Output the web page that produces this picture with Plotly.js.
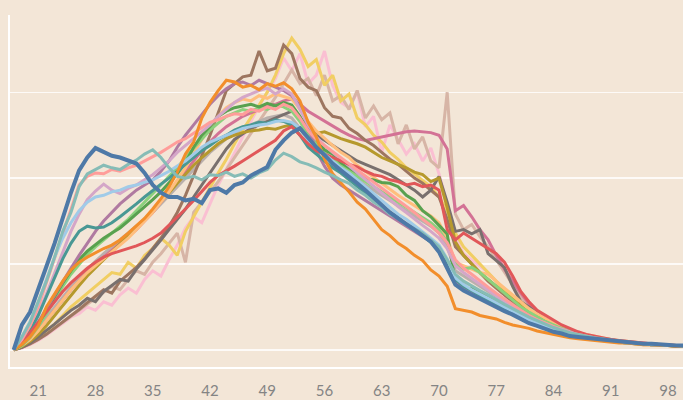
<!DOCTYPE html>
<html>
<head>
<meta charset="utf-8">
<script src="https://cdn.plot.ly/plotly-3.0.1.min.js"></script>
<style>
  html, body { margin: 0; padding: 0; background: #F3E6D7; }
  #chart { width: 683px; height: 400px; }
</style>
</head>
<body>
<div id="chart"></div>
<script>
// Ages on the x axis
const ages = [18,19,20,21,22,23,24,25,26,27,28,29,30,31,32,33,34,35,36,37,38,39,40,41,42,43,44,45,46,47,48,49,50,51,52,53,54,55,56,57,58,59,60,61,62,63,64,65,66,67,68,69,70,71,72,73,74,75,76,77,78,79,80,81,82,83,84,85,86,87,88,89,90,91,92,93,94,95,96,97,98,99,100];
const tickVals = [21,28,35,42,49,56,63,70,77,84,91,98];
const tickLabels = ["21","28","35","42","49","56","63","70","77","84","91","98"];

// Series values (unitless, one gridline = 1)
const sBlue = [0.00,0.29,0.44,0.72,0.97,1.24,1.55,1.83,2.09,2.24,
  2.35,2.31,2.26,2.24,2.21,2.17,2.06,1.92,1.83,1.78,
  1.78,1.74,1.76,1.71,1.86,1.88,1.83,1.92,1.95,2.03,
  2.08,2.13,2.33,2.44,2.53,2.58,2.47,2.36,2.27,2.17,
  2.09,2.02,1.94,1.86,1.77,1.69,1.60,1.53,1.47,1.40,
  1.33,1.26,1.14,0.95,0.76,0.69,0.64,0.59,0.55,0.50,
  0.45,0.41,0.36,0.31,0.28,0.24,0.21,0.19,0.16,0.15,
  0.14,0.13,0.12,0.10,0.09,0.09,0.08,0.07,0.07,0.06,
  0.06,0.05,0.05];
const sLightTeal = [0,0.15,0.32,0.55,0.80,1.08,1.38,1.60,1.90,2.05,
  2.10,2.15,2.12,2.10,2.16,2.21,2.28,2.33,2.24,2.12,
  2.02,2.00,2.02,1.98,2.04,2.03,2.07,2.02,2.05,2.00,
  2.06,2.10,2.21,2.29,2.25,2.19,2.16,2.12,2.07,2.03,
  1.98,1.94,1.86,1.80,1.72,1.66,1.58,1.53,1.46,1.41,
  1.36,1.28,1.20,1.05,0.88,0.80,0.74,0.69,0.64,0.58,
  0.53,0.48,0.43,0.38,0.34,0.30,0.26,0.23,0.20,0.18,
  0.16,0.14,0.13,0.11,0.10,0.09,0.08,0.07,0.06,0.06,
  0.05,0.05,0.04];
const sLightRed = [0,0.12,0.28,0.50,0.78,1.06,1.35,1.62,1.92,2.02,
  2.06,2.05,2.10,2.08,2.12,2.15,2.20,2.25,2.30,2.36,
  2.42,2.46,2.52,2.58,2.65,2.68,2.72,2.75,2.74,2.80,
  2.78,2.83,2.80,2.86,2.82,2.70,2.55,2.45,2.38,2.30,
  2.24,2.17,2.10,2.03,1.96,1.88,1.82,1.74,1.68,1.60,
  1.52,1.45,1.36,1.25,1.05,0.95,0.88,0.80,0.73,0.66,
  0.59,0.52,0.46,0.40,0.35,0.31,0.27,0.23,0.20,0.18,
  0.16,0.14,0.12,0.11,0.10,0.09,0.08,0.07,0.06,0.06,
  0.05,0.05,0.04];
const sLightPurple = [0,0.10,0.22,0.42,0.65,0.90,1.15,1.38,1.58,1.75,
  1.85,1.93,1.86,1.82,1.88,1.92,1.98,2.04,2.12,2.20,
  2.30,2.38,2.46,2.55,2.62,2.72,2.80,2.88,2.94,2.98,
  3.02,3.05,2.98,3.04,2.98,2.80,2.62,2.48,2.38,2.30,
  2.22,2.14,2.06,1.98,1.90,1.82,1.75,1.67,1.60,1.52,
  1.45,1.38,1.30,1.18,0.98,0.90,0.83,0.76,0.70,0.63,
  0.57,0.51,0.45,0.40,0.35,0.31,0.27,0.24,0.21,0.19,
  0.17,0.15,0.13,0.12,0.10,0.09,0.08,0.08,0.07,0.06,
  0.05,0.05,0.04];
const sLightBlue = [0,0.15,0.33,0.55,0.82,1.08,1.30,1.48,1.62,1.72,
  1.78,1.80,1.84,1.86,1.90,1.92,1.95,1.98,2.03,2.08,
  2.14,2.20,2.28,2.36,2.42,2.46,2.50,2.54,2.58,2.60,
  2.62,2.63,2.66,2.67,2.65,2.58,2.45,2.36,2.28,2.20,
  2.12,2.06,1.98,1.90,1.82,1.74,1.66,1.58,1.52,1.45,
  1.38,1.30,1.22,1.06,0.84,0.76,0.70,0.65,0.60,0.55,
  0.50,0.45,0.40,0.35,0.31,0.27,0.24,0.21,0.18,0.16,
  0.14,0.13,0.12,0.10,0.09,0.08,0.08,0.07,0.06,0.06,
  0.05,0.05,0.04];
const sTeal = [0,0.10,0.22,0.40,0.62,0.85,1.06,1.24,1.38,1.44,
  1.42,1.43,1.48,1.55,1.62,1.70,1.78,1.86,1.93,2.00,
  2.08,2.16,2.24,2.32,2.38,2.45,2.50,2.56,2.60,2.62,
  2.65,2.64,2.68,2.66,2.62,2.50,2.36,2.28,2.20,2.12,
  2.06,1.98,1.90,1.83,1.75,1.68,1.60,1.54,1.46,1.40,
  1.33,1.26,1.18,1.00,0.82,0.74,0.69,0.63,0.58,0.53,
  0.48,0.43,0.38,0.34,0.30,0.26,0.23,0.20,0.18,0.16,
  0.14,0.12,0.11,0.10,0.09,0.08,0.07,0.07,0.06,0.05,
  0.05,0.04,0.04];
const sOrange = [0,0.06,0.15,0.28,0.50,0.65,0.80,0.93,1.02,1.08,
  1.13,1.18,1.22,1.28,1.36,1.45,1.53,1.64,1.76,1.90,
  2.07,2.28,2.42,2.70,2.88,3.02,3.14,3.12,3.06,3.08,
  3.03,3.10,3.07,3.11,3.04,2.90,2.65,2.48,2.22,2.05,
  1.95,1.84,1.72,1.64,1.52,1.40,1.33,1.24,1.18,1.10,
  1.04,0.93,0.86,0.74,0.48,0.46,0.44,0.40,0.38,0.36,
  0.32,0.29,0.27,0.25,0.22,0.20,0.18,0.16,0.14,0.13,
  0.12,0.11,0.10,0.09,0.08,0.08,0.07,0.06,0.06,0.05,
  0.05,0.04,0.04];
const sLightOrange = [0,0.05,0.12,0.22,0.34,0.46,0.58,0.70,0.80,0.90,
  0.98,1.06,1.13,1.22,1.30,1.40,1.50,1.60,1.72,1.84,
  1.98,2.12,2.28,2.45,2.60,2.72,2.82,2.88,2.92,2.90,
  2.96,2.93,2.98,2.95,2.92,2.80,2.66,2.55,2.46,2.38,
  2.30,2.24,2.15,2.08,2.00,1.93,1.86,1.80,1.74,1.68,
  1.62,1.56,1.48,1.30,1.02,0.98,0.94,0.90,0.88,0.80,
  0.72,0.64,0.56,0.48,0.42,0.36,0.31,0.27,0.23,0.20,
  0.18,0.16,0.14,0.12,0.11,0.10,0.09,0.08,0.07,0.06,
  0.06,0.05,0.05];
const sGreen = [0,0.06,0.16,0.30,0.46,0.62,0.78,0.92,1.05,1.15,
  1.23,1.30,1.36,1.42,1.50,1.58,1.66,1.75,1.84,1.95,
  2.05,2.18,2.36,2.50,2.60,2.72,2.78,2.82,2.84,2.86,
  2.83,2.87,2.84,2.88,2.85,2.72,2.55,2.45,2.33,2.28,
  2.18,2.12,2.05,2.00,1.98,1.95,1.94,1.90,1.80,1.74,
  1.62,1.55,1.45,1.35,0.78,0.70,0.72,0.66,0.60,0.55,
  0.50,0.45,0.40,0.35,0.31,0.28,0.24,0.21,0.18,0.16,
  0.14,0.13,0.11,0.10,0.09,0.08,0.08,0.07,0.06,0.06,
  0.05,0.05,0.04];
const sLightGreen = [0,0.05,0.14,0.27,0.42,0.58,0.74,0.88,1.00,1.11,
  1.20,1.28,1.36,1.43,1.52,1.62,1.72,1.82,1.92,2.02,
  2.12,2.24,2.35,2.46,2.56,2.64,2.72,2.76,2.80,2.78,
  2.82,2.80,2.85,2.83,2.78,2.66,2.50,2.40,2.30,2.22,
  2.15,2.08,2.02,1.96,1.90,1.84,1.78,1.72,1.66,1.60,
  1.54,1.48,1.40,1.25,1.00,0.94,0.96,0.90,0.82,0.74,
  0.66,0.58,0.50,0.44,0.38,0.33,0.29,0.25,0.22,0.19,
  0.17,0.15,0.13,0.12,0.10,0.09,0.08,0.07,0.07,0.06,
  0.05,0.05,0.04];
const sOlive = [0,0.04,0.10,0.18,0.28,0.40,0.52,0.64,0.75,0.86,
  0.96,1.05,1.14,1.23,1.32,1.42,1.52,1.62,1.72,1.83,
  1.94,2.05,2.15,2.24,2.32,2.40,2.46,2.50,2.53,2.55,
  2.56,2.58,2.57,2.60,2.62,2.58,2.55,2.52,2.54,2.50,
  2.46,2.43,2.40,2.36,2.30,2.24,2.20,2.16,2.12,2.07,
  2.04,1.96,2.00,1.66,1.26,1.10,1.00,0.90,0.82,0.74,
  0.66,0.58,0.50,0.43,0.37,0.32,0.28,0.24,0.21,0.18,
  0.16,0.14,0.12,0.11,0.10,0.09,0.08,0.07,0.06,0.06,
  0.05,0.05,0.04];
const sYellow = [0,0.03,0.08,0.14,0.22,0.30,0.40,0.50,0.58,0.66,
  0.74,0.82,0.90,0.88,1.02,0.95,1.10,1.18,1.30,1.22,
  1.10,1.38,1.55,1.72,1.90,2.06,2.22,2.40,2.56,2.70,
  2.85,3.00,3.20,3.45,3.63,3.50,3.30,3.38,3.08,3.20,
  2.90,2.98,2.70,2.62,2.50,2.42,2.30,2.22,2.12,2.05,
  1.98,1.90,1.78,1.62,1.36,1.20,1.10,1.00,0.90,0.80,
  0.70,0.60,0.52,0.44,0.38,0.32,0.27,0.23,0.20,0.17,
  0.15,0.13,0.11,0.10,0.09,0.08,0.07,0.06,0.06,0.05,
  0.05,0.04,0.04];
const sRed = [0,0.08,0.20,0.32,0.45,0.57,0.68,0.78,0.87,0.95,
  1.02,1.08,1.12,1.15,1.18,1.21,1.25,1.30,1.36,1.45,
  1.54,1.64,1.74,1.84,1.95,2.03,2.08,2.14,2.20,2.26,
  2.32,2.38,2.44,2.55,2.60,2.50,2.40,2.32,2.28,2.24,
  2.20,2.16,2.13,2.08,2.04,2.02,1.98,1.96,1.92,1.94,
  1.90,1.92,1.86,1.40,1.28,1.36,1.30,1.24,1.18,1.12,
  1.02,0.86,0.68,0.56,0.46,0.40,0.35,0.29,0.25,0.21,
  0.18,0.16,0.14,0.12,0.11,0.10,0.09,0.08,0.07,0.06,
  0.06,0.05,0.05];
const sGray = [0,0.03,0.08,0.15,0.22,0.30,0.38,0.46,0.52,0.60,
  0.56,0.68,0.75,0.82,0.80,0.94,1.05,1.16,1.28,1.40,
  1.52,1.64,1.78,1.92,2.06,2.20,2.34,2.45,2.52,2.58,
  2.62,2.66,2.70,2.74,2.78,2.70,2.60,2.50,2.44,2.38,
  2.32,2.26,2.20,2.16,2.12,2.08,2.04,1.98,1.92,1.86,
  1.78,1.86,2.02,1.72,1.38,1.40,1.35,1.40,1.12,1.04,
  0.96,0.74,0.56,0.50,0.42,0.35,0.30,0.26,0.22,0.19,
  0.17,0.15,0.13,0.12,0.10,0.09,0.08,0.07,0.07,0.06,
  0.05,0.05,0.04];
const sLightGray = [0,0.06,0.14,0.25,0.38,0.50,0.62,0.73,0.84,0.94,
  1.03,1.12,1.20,1.28,1.36,1.44,1.52,1.60,1.70,1.80,
  1.90,2.00,2.10,2.20,2.30,2.38,2.46,2.52,2.58,2.62,
  2.66,2.70,2.72,2.74,2.70,2.58,2.44,2.34,2.26,2.18,
  2.12,2.05,1.98,1.92,1.86,1.80,1.74,1.68,1.62,1.56,
  1.50,1.44,1.36,1.20,0.92,0.86,0.80,0.74,0.68,0.62,
  0.56,0.50,0.44,0.39,0.34,0.30,0.26,0.23,0.20,0.18,
  0.16,0.14,0.12,0.11,0.10,0.09,0.08,0.07,0.06,0.06,
  0.05,0.05,0.04];
const sPink = [0,0.05,0.12,0.22,0.34,0.46,0.58,0.70,0.80,0.90,
  1.00,1.08,1.16,1.24,1.32,1.40,1.50,1.60,1.72,1.84,
  1.96,2.08,2.20,2.32,2.42,2.52,2.60,2.66,2.72,2.76,
  2.80,2.84,2.86,2.90,2.92,2.86,2.78,2.72,2.66,2.60,
  2.55,2.50,2.46,2.44,2.46,2.48,2.50,2.52,2.54,2.55,
  2.54,2.53,2.50,2.34,1.62,1.68,1.55,1.40,1.28,1.10,
  0.94,0.80,0.66,0.54,0.44,0.36,0.30,0.25,0.21,0.18,
  0.16,0.14,0.12,0.11,0.10,0.09,0.08,0.07,0.06,0.06,
  0.05,0.05,0.04];
const sLightPink = [0,0.02,0.06,0.11,0.17,0.24,0.31,0.38,0.42,0.50,
  0.46,0.56,0.52,0.64,0.72,0.66,0.82,0.92,0.86,1.05,
  1.22,1.42,1.55,1.48,1.70,1.92,2.10,2.30,2.48,2.66,
  2.84,3.00,3.16,3.40,3.25,3.45,3.10,3.20,3.48,3.08,
  2.88,2.82,3.00,2.60,2.72,2.30,2.62,2.45,2.28,2.40,
  2.20,2.35,2.05,1.70,1.30,1.12,1.05,0.98,0.90,0.80,
  0.70,0.60,0.50,0.42,0.36,0.31,0.27,0.23,0.20,0.17,
  0.15,0.13,0.11,0.10,0.09,0.08,0.07,0.06,0.06,0.05,
  0.05,0.04,0.04];
const sPurple = [0,0.08,0.18,0.32,0.48,0.64,0.80,0.95,1.10,1.24,
  1.38,1.50,1.60,1.70,1.78,1.86,1.92,1.98,2.08,2.20,
  2.36,2.50,2.62,2.74,2.86,2.96,3.04,3.10,3.12,3.08,
  3.14,3.10,3.06,3.02,2.96,2.84,2.60,2.32,2.14,2.00,
  1.92,1.86,1.80,1.74,1.68,1.62,1.56,1.50,1.44,1.38,
  1.32,1.26,1.18,1.02,0.80,0.72,0.67,0.62,0.57,0.52,
  0.47,0.42,0.38,0.34,0.30,0.27,0.24,0.21,0.19,0.17,
  0.15,0.13,0.12,0.11,0.10,0.09,0.08,0.07,0.06,0.06,
  0.05,0.05,0.04];
const sBrown = [0,0.03,0.07,0.12,0.18,0.25,0.32,0.40,0.47,0.55,
  0.63,0.70,0.66,0.80,0.88,0.96,1.06,1.18,1.30,1.44,
  1.60,1.80,2.02,2.26,2.50,2.76,3.02,3.10,3.18,3.20,
  3.48,3.25,3.28,3.55,3.45,3.16,3.06,3.02,2.82,2.72,
  2.70,2.58,2.52,2.44,2.38,2.30,2.22,2.16,2.08,2.00,
  1.94,1.86,1.78,1.52,1.20,1.10,1.00,0.90,0.80,0.72,
  0.64,0.56,0.48,0.42,0.36,0.31,0.27,0.23,0.20,0.18,
  0.16,0.14,0.12,0.11,0.10,0.09,0.08,0.07,0.06,0.06,
  0.05,0.05,0.04];
const sLightBrown = [0,0.03,0.07,0.12,0.18,0.25,0.32,0.39,0.46,0.53,
  0.60,0.67,0.74,0.70,0.82,0.92,0.88,1.02,1.12,1.24,
  1.36,1.02,1.60,1.72,1.84,1.96,2.10,2.24,2.38,2.52,
  2.66,2.80,2.94,3.10,3.26,3.10,3.16,2.96,3.20,2.90,
  2.96,2.80,3.02,2.70,2.84,2.68,2.76,2.40,2.62,2.34,
  2.48,2.20,2.12,3.00,1.58,1.40,1.46,1.32,1.20,1.05,
  0.90,0.76,0.62,0.50,0.40,0.33,0.28,0.24,0.21,0.18,
  0.16,0.14,0.12,0.11,0.10,0.09,0.08,0.07,0.06,0.06,
  0.05,0.05,0.04];

const series = [
  {v: sLightPink,   c: "#FABFD2"},
  {v: sLightBrown,  c: "#D7B5A6"},
  {v: sYellow,      c: "#F1CE63"},
  {v: sLightGray,   c: "#BAB0AC"},
  {v: sPink,        c: "#D37295"},
  {v: sBrown,       c: "#9D7660"},
  {v: sGray,        c: "#79706E"},
  {v: sOlive,       c: "#B6992D"},
  {v: sLightOrange, c: "#FFBE7D"},
  {v: sLightGreen,  c: "#8CD17D"},
  {v: sGreen,       c: "#59A14F"},
  {v: sPurple,      c: "#B07AA1"},
  {v: sLightPurple, c: "#D4A6C8"},
  {v: sTeal,        c: "#499894"},
  {v: sRed,         c: "#E15759"},
  {v: sLightRed,    c: "#FF9D9A"},
  {v: sLightBlue,   c: "#A0CBE8"},
  {v: sOrange,      c: "#F28E2B"},
  {v: sLightTeal,   c: "#86BCB6"},
  {v: sBlue,        c: "#4E79A7", w: 4}
];

const traces = series.map(s => ({
  type: "scatter",
  mode: "lines",
  x: ages,
  y: s.v,
  line: {color: s.c, width: s.w || 3},
  hoverinfo: "skip"
}));

const layout = {
  width: 683, height: 400,
  margin: {l: 10, r: 0, t: 15, b: 33},
  paper_bgcolor: "#F3E6D7",
  plot_bgcolor: "#F3E6D7",
  showlegend: false,
  xaxis: {
    range: [17.55, 99.83],
    tickmode: "array", tickvals: tickVals, ticktext: tickLabels,
    showgrid: false, zeroline: false,
    showline: true, linecolor: "#FFFFFF", linewidth: 2,
    ticks: "outside", ticklen: 9, tickcolor: "rgba(0,0,0,0)",
    tickfont: {family: "Lato, 'Open Sans', sans-serif", size: 15, color: "#848484"}
  },
  yaxis: {
    range: [-0.2, 3.9],
    tick0: 0, dtick: 1,
    showticklabels: false,
    showgrid: true, gridcolor: "rgba(255,255,255,0.8)", gridwidth: 1.5,
    zeroline: false,
    showline: true, linecolor: "#FFFFFF", linewidth: 2
  }
};

Plotly.newPlot("chart", traces, layout, {staticPlot: true, displayModeBar: false});
</script>
</body>
</html>
